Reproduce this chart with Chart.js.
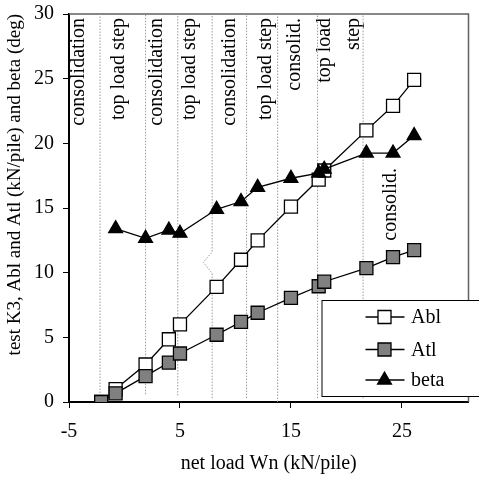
<!DOCTYPE html>
<html>
<head>
<meta charset="utf-8">
<script src="https://cdn.jsdelivr.net/npm/chart.js@4/dist/chart.umd.min.js"></script>
<style>
  body { margin: 0; background: #fff; }
  canvas { display: block; }
</style>
</head>
<body>
<canvas id="chart" width="479" height="477"></canvas>
<script>
// Values
const netLoad    = [-2.1, -0.8, 1.9, 4.0, 5.0, 8.3, 10.5, 12.0, 15.0, 17.5, 18.0, 21.8, 24.2, 26.1];
const ablValues  = [0, 1.0, 2.9, 4.85, 6.0, 8.9, 11.0, 12.5, 15.1, 17.2, 17.9, 21.0, 22.9, 24.9];
const atlValues  = [0, 0.67, 2.0, 3.05, 3.75, 5.2, 6.2, 6.9, 8.05, 8.95, 9.3, 10.35, 11.2, 11.75];
const betaValues = [null, 13.4, 12.65, 13.3, 13.05, 14.9, 15.5, 16.6, 17.3, 17.7, 18.0, 19.25, 19.25, 20.6];

const xTicks = [-5, 5, 15, 25];

// dotted separators between the load phases
const stepLineX      = [-2.2, 1.9, 4.8, 7.9, 11.0, 13.8, 17.4, 21.5];
const stepLineBottom = [0, 0.6, 0.5, 0.3, 0.3, 0, 0.3, 0.3];
// little kink in the 4th separator
const kinkX = [7.9, 7.1, 7.9];
const kinkY = [9.95, 10.8, 11.6];

// phase labels (rotated, text end at phaseTop)
const phaseText = ['consolidation', 'top load step', 'consolidation', 'top load step', 'consolidation',
                   'top load step', 'consolid.', 'top load', 'step', 'consolid.'];
const phaseX    = [-4.16, -0.52, 2.91, 5.89, 9.45, 12.7, 15.37, 18.03, 20.7, 23.95];
const phaseTop  = [29.7, 29.7, 29.7, 29.7, 29.7, 29.7, 29.7, 29.7, 29.7, 18.1];

const seriesNames = ['Abl', 'Atl', 'beta'];

Chart.defaults.font.family = "'Liberation Serif', 'Times New Roman', serif";
Chart.defaults.color = '#000';

const points = (vals) => netLoad
    .map((x, i) => ({ x: x, y: vals[i] }))
    .filter(p => p.y !== null);

// separator datasets
const stepSets = stepLineX.map((x, i) => {
    const pts = [{ x: x, y: stepLineBottom[i] }];
    if (i === 3) {
        kinkX.forEach((kx, k) => pts.push({ x: kx, y: kinkY[k] }));
    }
    pts.push({ x: x, y: 30 });
    return {
        data: pts,
        showLine: true,
        pointRadius: 0,
        borderColor: '#9a9a9a',
        borderWidth: 1,
        borderDash: [1.5, 1.5],
        order: 10
    };
});

const seriesStyle = [
    { pointStyle: 'rect', pointRadius: 9.2, pointBackgroundColor: '#fff', order: 3 },
    { pointStyle: 'rect', pointRadius: 9.2, pointBackgroundColor: '#808080', order: 2 },
    { pointStyle: 'triangle', pointRadius: 8, pointBackgroundColor: '#000', order: 1 }
];
const seriesData = [ablValues, atlValues, betaValues];

const mainSets = seriesNames.map((name, i) => ({
    label: name,
    data: points(seriesData[i]),
    showLine: true,
    borderColor: '#000',
    borderWidth: 1.3,
    pointBorderColor: '#000',
    pointBorderWidth: 1.3,
    pointStyle: seriesStyle[i].pointStyle,
    pointRadius: seriesStyle[i].pointRadius,
    pointBackgroundColor: seriesStyle[i].pointBackgroundColor,
    order: seriesStyle[i].order
}));

// Plot frame (top/right) and phase labels
const framePlugin = {
    id: 'frame',
    beforeDatasetsDraw(chart) {
        const ctx = chart.ctx;
        const a = chart.chartArea;
        const xs = chart.scales.x, ys = chart.scales.y;
        ctx.save();
        ctx.strokeStyle = '#606060';
        ctx.lineWidth = 1.5;
        ctx.beginPath();
        ctx.moveTo(a.left, a.top);
        ctx.lineTo(a.right, a.top);
        ctx.lineTo(a.right, a.bottom);
        ctx.stroke();

        ctx.beginPath();
        ctx.rect(a.left, a.top, a.right - a.left, a.bottom - a.top);
        ctx.clip();
        ctx.fillStyle = '#000';
        ctx.font = "20px 'Liberation Serif', 'Times New Roman', serif";
        ctx.textAlign = 'right';
        ctx.textBaseline = 'middle';
        phaseText.forEach((t, i) => {
            ctx.save();
            ctx.translate(xs.getPixelForValue(phaseX[i]), ys.getPixelForValue(phaseTop[i]));
            ctx.rotate(-Math.PI / 2);
            ctx.fillText(t, 0, 0);
            ctx.restore();
        });
        ctx.restore();
    }
};

// Boxed legend in the lower right corner
const legendPlugin = {
    id: 'boxLegend',
    afterDraw(chart) {
        const ctx = chart.ctx;
        const a = chart.chartArea;
        const left = a.right - 146.5;
        const top = a.bottom - 101.5;
        const bottom = a.bottom - 5.5;
        const rows = [16.5, 49, 79.5];
        ctx.save();
        ctx.fillStyle = '#fff';
        ctx.fillRect(left, top, chart.width - left + 5, bottom - top);
        ctx.strokeStyle = '#000';
        ctx.lineWidth = 1;
        ctx.strokeRect(left, top, chart.width - left + 5, bottom - top);

        ctx.font = "20px 'Liberation Serif', 'Times New Roman', serif";
        ctx.textAlign = 'left';
        ctx.textBaseline = 'middle';
        mainSets.forEach((ds, i) => {
            const y = top + rows[i];
            ctx.strokeStyle = '#000';
            ctx.lineWidth = 1.3;
            ctx.beginPath();
            ctx.moveTo(left + 43.5, y);
            ctx.lineTo(left + 82.5, y);
            ctx.stroke();
            ctx.fillStyle = ds.pointBackgroundColor;
            Chart.helpers.drawPoint(ctx, {
                pointStyle: ds.pointStyle,
                radius: ds.pointRadius,
                rotation: 0,
                borderWidth: 1.3
            }, left + 62.5, y);
            ctx.fillStyle = '#000';
            ctx.fillText(ds.label, left + 89, y + 1);
        });
        ctx.restore();
    }
};

new Chart(document.getElementById('chart'), {
    type: 'scatter',
    data: { datasets: [...mainSets, ...stepSets] },
    options: {
        responsive: false,
        animation: false,
        layout: { padding: { top: 14, right: 7, left: 0, bottom: 0 } },
        plugins: {
            legend: { display: false },
            tooltip: { enabled: false }
        },
        scales: {
            x: {
                type: 'linear',
                min: -5,
                max: 31,
                afterBuildTicks: (s) => { s.ticks = xTicks.map(v => ({ value: v })); },
                afterFit: (s) => {
                    s.height = 75;
                    s.paddingLeft = 0;
                    s.paddingRight = 0;
                },
                grid: { drawOnChartArea: false, color: '#000', tickLength: 6 },
                border: { color: '#000', width: 2 },
                ticks: { font: { size: 20 }, padding: 12, maxRotation: 0 },
                title: {
                    display: true,
                    text: 'net load Wn (kN/pile)',
                    font: { size: 20 },
                    padding: { top: 0, bottom: 1 }
                }
            },
            y: {
                min: 0,
                max: 30,
                ticks: { stepSize: 5, font: { size: 20 }, padding: 9 },
                afterFit: (s) => {
                    s.width = 69;
                    s.paddingTop = 0;
                    s.paddingBottom = 0;
                },
                grid: { drawOnChartArea: false, color: '#000', tickLength: 6 },
                border: { color: '#000', width: 2 },
                title: {
                    display: true,
                    text: 'test K3, Abl and Atl (kN/pile) and beta (deg)',
                    align: 'end',
                    font: { size: 19 },
                    padding: { top: 3.5, bottom: 0 }
                }
            }
        }
    },
    plugins: [framePlugin, legendPlugin]
});
</script>
</body>
</html>
